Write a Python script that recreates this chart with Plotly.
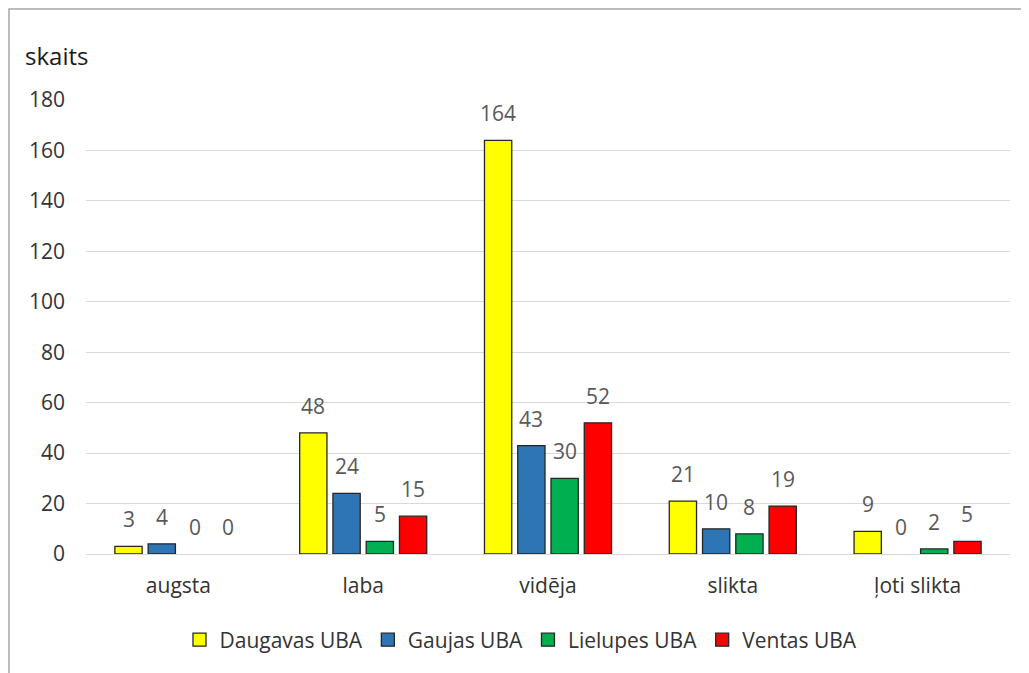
import plotly.graph_objects as go

categories = ["augsta", "laba", "vidēja", "slikta", "ļoti slikta"]
series_names = ["Daugavas UBA", "Gaujas UBA", "Lielupes UBA", "Ventas UBA"]
daugavas = [3, 48, 164, 21, 9]
gaujas = [4, 24, 43, 10, 0]
lielupes = [0, 5, 30, 8, 2]
ventas = [0, 15, 52, 19, 5]
colors = ["#FFFF00", "#2E75B6", "#00B050", "#FF0000"]
y_ticks = [0, 20, 40, 60, 80, 100, 120, 140, 160, 180]

FONT = "'Open Sans', Lato, sans-serif"
series = [daugavas, gaujas, lielupes, ventas]

# page body has an 8px margin, so figure coords = page coords - 8
W, H = 1021, 665
L, R, T, B = 78, 19, 92, 119
pw = W - L - R
ph = H - T - B

fig = go.Figure()
for name, vals, col in zip(series_names, series, colors):
    fig.add_trace(go.Bar(
        x=categories, y=vals, name=name, showlegend=False,
        marker=dict(color=col,
                    line=dict(color="#262626",
                              width=[1.3 if v else 0 for v in vals])),
    ))
# legend entries (square swatches with dark outline)
for name, col in zip(series_names, colors):
    fig.add_trace(go.Scatter(
        x=[None], y=[None], mode="markers", name=name, showlegend=True,
        marker=dict(symbol="square", size=13, color=col,
                    line=dict(color="#262626", width=1.3)),
    ))

slot = pw / len(categories) * (1 - 0.28) / 4
annotations = []
for i, vals in enumerate(series):
    for c, v in zip(categories, vals):
        annotations.append(dict(
            x=c, y=v, xref="x", yref="y", text=str(v), showarrow=False,
            xshift=(i - 1.5) * slot, yshift=11, yanchor="bottom",
            font=dict(family=FONT, size=21, color="#595959"),
        ))
annotations.append(dict(
    x=(15 - L) / pw, y=(H - B - 47) / ph, xref="paper", yref="paper",
    xanchor="left", yanchor="middle", text="skaits", showarrow=False,
    font=dict(family=FONT, size=24, color="#1a1a1a"),
))

fig.update_layout(
    width=W, height=H,
    margin=dict(l=L, r=R, t=T, b=B, pad=0),
    paper_bgcolor="white", plot_bgcolor="white",
    barmode="group", bargap=0.28, bargroupgap=0.18,
    font=dict(family=FONT, size=21, color="#333333"),
    showlegend=True,
    legend=dict(orientation="h", x=(513 - L) / pw, xanchor="center",
                y=(H - B - 632) / ph, yanchor="middle",
                font=dict(family=FONT, size=21, color="#333333"),
                itemwidth=30, tracegroupgap=0),
    annotations=annotations,
    shapes=[dict(type="rect", xref="paper", yref="paper",
                 x0=(1 - L) / pw, x1=(W + 20 - L) / pw,
                 y0=(H - B - H - 20) / ph, y1=(H - B - 1) / ph,
                 line=dict(color="#a6a6a6", width=1.5), layer="below")],
    xaxis=dict(showgrid=False, showline=True, linecolor="#d9d9d9", linewidth=1.3,
               ticks="", ticklabelstandoff=13,
               tickfont=dict(family=FONT, size=21, color="#333333")),
    yaxis=dict(range=[0, 180], tickvals=y_ticks, showgrid=True, gridcolor="#d9d9d9",
               gridwidth=1.3, zeroline=False, showline=False, ticks="",
               ticklabelstandoff=20,
               tickfont=dict(family=FONT, size=21, color="#333333")),
)

fig.write_html("out.html")
